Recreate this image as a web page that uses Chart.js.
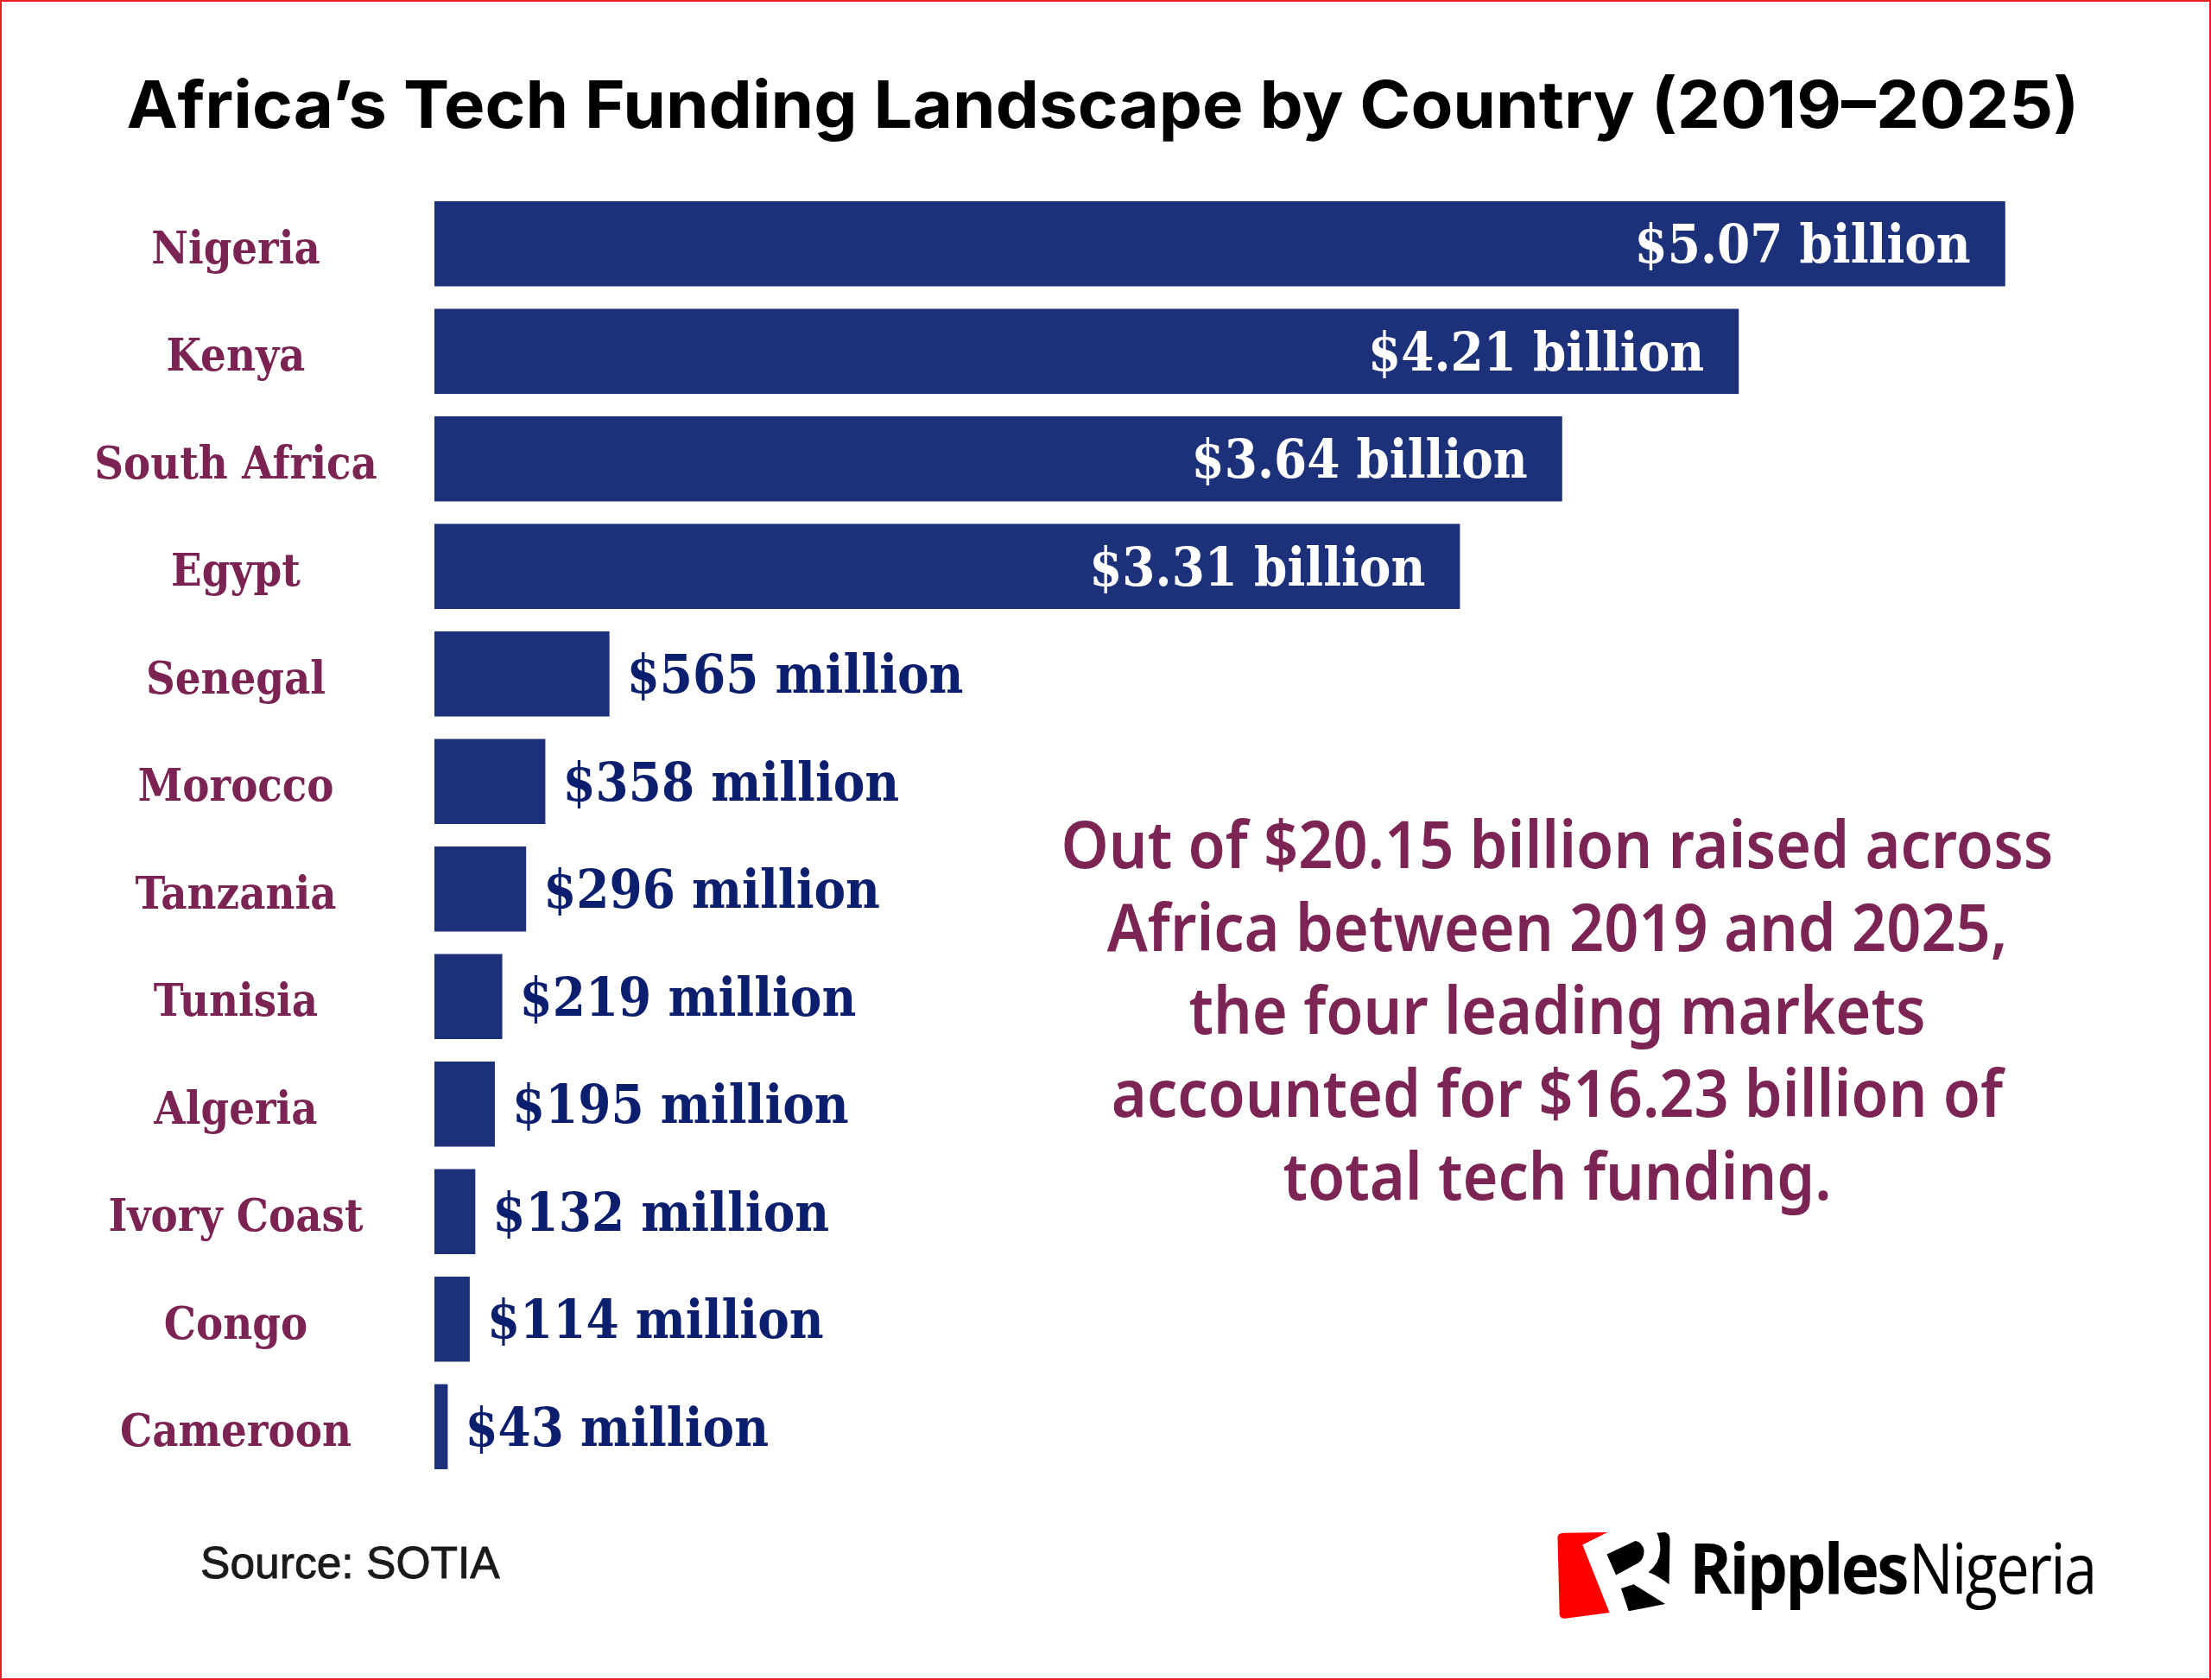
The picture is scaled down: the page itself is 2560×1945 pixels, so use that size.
<!DOCTYPE html>
<html>
<head>
<meta charset="utf-8">
<title>Africa's Tech Funding Landscape by Country</title>
<script src="https://cdn.jsdelivr.net/npm/chart.js@4.4.1/dist/chart.umd.min.js"></script>
<style>
  html, body { margin: 0; padding: 0; background: #fff; }
  #page { position: relative; width: 2560px; height: 1945px; overflow: hidden; background: #fff; }
  #frame { position: absolute; left: 0; top: 0; width: 2560px; height: 1945px; box-sizing: border-box; border: 2px solid #ed1c24; pointer-events: none; }
  #wheel { position: absolute; left: 0; top: 0; }
  .fit { position: absolute; white-space: nowrap; }
  #title { top: 82px; left: 1277px; font: 700 76px Inter, sans-serif; line-height: 76px; color: #000; }
  #note { left: 1803px; top: 928px; text-align: center; color: #7c2555; font: 600 75px 'Noto Sans', sans-serif; line-height: 96px; }
  #source { left: 232px; top: 1783px; font: 400 52px 'Liberation Sans', Arial, sans-serif; line-height: 52px; color: #1a1a1a; -webkit-text-stroke: 0.9px #1a1a1a; }
  #ripples { left: 1956px; top: 1773px; font: 700 81px 'Open Sans', sans-serif; line-height: 81px; color: #000; letter-spacing: -3px; }
  #nigeria { left: 2210px; top: 1773px; font: 400 81px 'Open Sans', sans-serif; line-height: 81px; color: #000; letter-spacing: -2px; }
  #logo { position: absolute; left: 1799px; top: 1770px; width: 138px; height: 107px; }
</style>
</head>
<body>
<div id="page">
  <canvas id="wheel" width="2560" height="1945"></canvas>
  <div id="title" class="fit">Africa’s Tech Funding Landscape by Country (2019–2025)</div>
  <div id="note" class="fit">Out of $20.15 billion raised across<br>Africa between 2019 and 2025,<br>the four leading markets<br>accounted for $16.23 billion of<br>total tech funding.</div>
  <div id="source" class="fit">Source: SOTIA</div>
  <svg id="logo" viewBox="110 150 310 320" preserveAspectRatio="none">
    <path d="M120 180 Q120 165 135 164 L250 162 L185 205 L255 440 L140 460 Q126 462 125 445 Z" fill="#ff0000"/>
    <path d="M248 238 L322 192 Q340 195 345 225 Q345 255 330 268 L272 310 Z" fill="#000"/>
    <path d="M378 164 L400 162 Q413 168 412 190 L410 342 Q398 330 384 318 Q370 306 356 300 Q385 270 387 225 Q388 190 378 164 Z" fill="#000"/>
    <path d="M285 356 L318 342 L400 410 L305 435 Z" fill="#000"/>
  </svg>
  <div id="ripples" class="fit">Ripples</div>
  <div id="nigeria" class="fit">Nigeria</div>
  <div id="frame"></div>
</div>
<script>
// datos (USD, miles de millones)
const countries = ['Nigeria', 'Kenya', 'South Africa', 'Egypt', 'Senegal', 'Morocco',
    'Tanzania', 'Tunisia', 'Algeria', 'Ivory Coast', 'Congo', 'Cameroon'];
const funding = [5.07, 4.21, 3.64, 3.31, 0.565, 0.358, 0.296, 0.219, 0.195, 0.132, 0.114, 0.043];
const axisMax = 5.5;

const labelFamily = "'DejaVu Serif Condensed', 'Liberation Serif', serif";
const countryFont = { family: labelFamily, size: 52, weight: 'bold' };
const valueFont = 'bold 61px ' + labelFamily;
const barColor = '#1c317a';

function fmt(v) {
    if (v >= 1) return '$' + v.toFixed(2) + ' billion';
    return '$' + Math.round(v * 1000) + ' million';
}

// padding para centrar los nombres en x ~ 273
function tickPadding() {
    const c = document.createElement('canvas').getContext('2d');
    c.font = 'bold ' + countryFont.size + 'px ' + labelFamily;
    const widest = Math.max(...countries.map(t => c.measureText(t).width));
    return 503 - 273 - widest / 2;
}

const valueLabels = {
    id: 'valueLabels',
    afterDatasetsDraw(chart) {
        const ctx = chart.ctx;
        const meta = chart.getDatasetMeta(0);
        ctx.save();
        ctx.font = valueFont;
        ctx.textBaseline = 'alphabetic';
        meta.data.forEach((bar, i) => {
            const txt = fmt(funding[i]);
            const w = ctx.measureText(txt).width;
            if (bar.x - bar.base > w + 80) {
                ctx.fillStyle = '#ffffff';
                ctx.textAlign = 'right';
                ctx.fillText(txt, bar.x - 40, bar.y + 22);
            } else {
                ctx.fillStyle = '#0b1f6e';
                ctx.textAlign = 'left';
                ctx.fillText(txt, bar.x + 20, bar.y + 22);
            }
        });
        ctx.restore();
    }
};

function fitWidth(id, target, origin) {
    const el = document.getElementById(id);
    const s = target / el.offsetWidth;
    el.style.transformOrigin = origin;
    if (origin === 'center top') {
        el.style.transform = 'translateX(-50%) scaleX(' + s + ')';
    } else {
        el.style.transform = 'scaleX(' + s + ')';
    }
}

function layoutText() {
    fitWidth('title', 2261, 'center top');
    // ancho de la primera línea de la nota
    const note = document.getElementById('note');
    const probe = document.createElement('span');
    probe.style.font = getComputedStyle(note).font;
    probe.style.position = 'absolute';
    probe.style.whiteSpace = 'nowrap';
    probe.textContent = 'Out of $20.15 billion raised across';
    document.body.appendChild(probe);
    const s = 1149 / probe.offsetWidth;
    probe.remove();
    note.style.transform = 'translateX(-50%) scaleX(' + s + ')';
    note.style.transformOrigin = 'center top';
    fitWidth('source', 347, 'left top');
    fitWidth('ripples', 252, 'left top');
    fitWidth('nigeria', 216, 'left top');
}

function init() {
    const wheel = document.getElementById('wheel');
    new Chart(wheel, {
        type: 'bar',
        plugins: [valueLabels],
        data: {
            labels: countries,
            datasets: [{
                data: funding,
                backgroundColor: barColor,
                borderWidth: 0,
                categoryPercentage: 1,
                barPercentage: 0.79
            }]
        },
        options: {
            indexAxis: 'y',
            responsive: false,
            animation: false,
            devicePixelRatio: 1,
            layout: { padding: { left: 0, right: 84, top: 220, bottom: 231 } },
            plugins: {
                legend: { display: false },
                tooltip: { enabled: false },
                title: { display: false }
            },
            scales: {
                x: { display: false, min: 0, max: axisMax },
                y: {
                    grid: { display: false, drawTicks: false },
                    border: { display: false },
                    ticks: {
                        crossAlign: 'center',
                        padding: tickPadding(),
                        labelOffset: 9,
                        color: '#7b2352',
                        font: countryFont
                    },
                    afterFit(scale) { scale.width = 503; }
                }
            }
        }
    });
    layoutText();
}

window.addEventListener('load', () => {
    document.fonts.ready.then(init);
});
</script>
</body>
</html>
